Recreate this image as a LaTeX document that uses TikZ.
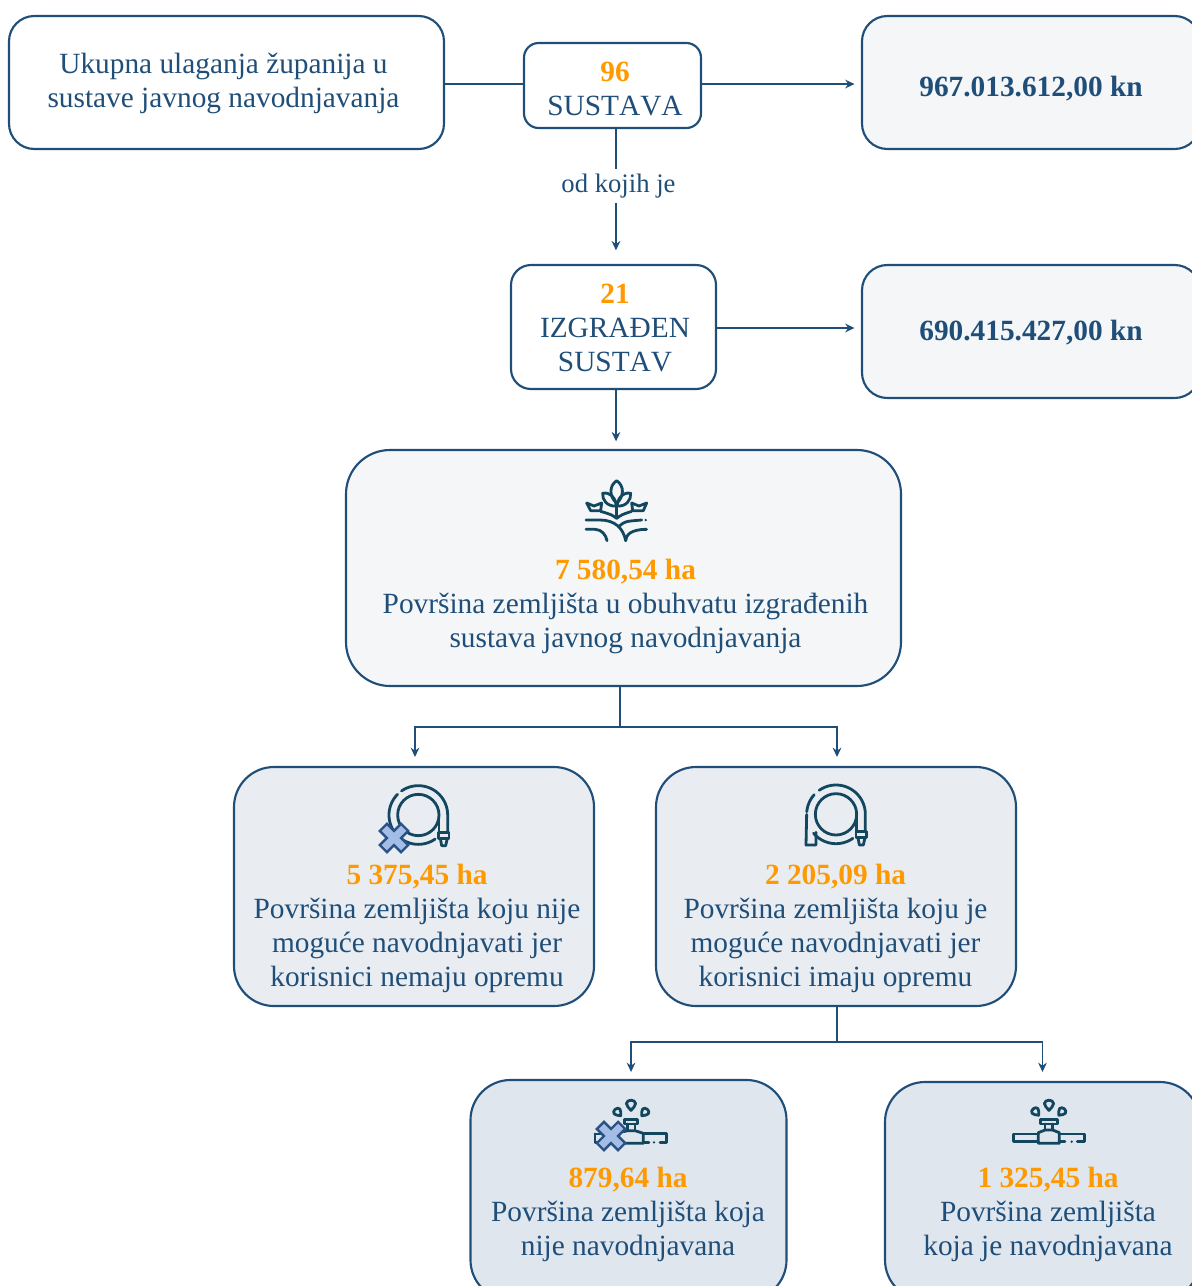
\documentclass[tikz,border=0pt]{standalone}
\usepackage{fontspec}
\setmainfont{Liberation Serif}
\usetikzlibrary{arrows.meta}
\definecolor{navy}{HTML}{1F4E79}
\definecolor{orng}{HTML}{FF9900}
\definecolor{iconc}{HTML}{12475F}
\definecolor{fillA}{HTML}{F4F6F8}
\definecolor{fillB}{HTML}{E9EDF2}
\definecolor{fillC}{HTML}{DFE6EE}
\definecolor{xfill}{HTML}{A4BDE6}
\definecolor{xline}{HTML}{2A5286}
\tikzset{
  box/.style={draw=navy,line width=1.6pt,inner sep=0,outer sep=0},
  txt/.style={font=\fontsize{22}{25.5}\selectfont,text=navy,align=center,inner sep=0,outer sep=0},
  big/.style={font=\fontsize{22}{25.5}\selectfont\bfseries,text=navy,inner sep=0},
  conn/.style={draw=navy,line width=1.1pt},
  arr/.style={conn,-{Stealth[length=7pt,width=6.5pt]}},
  icon/.style={draw=iconc,line width=2.1pt,line cap=round,line join=round},
}
\newcommand{\nm}[1]{{\bfseries\color{orng}#1}}
\newcommand{\nok}{\addfontfeature{RawFeature=-kern}}
\newcommand{\xmk}[2]{\begin{scope}[shift={(#1,#2)},x=0.75pt,y=0.75pt,rotate=45]
  \draw[draw=xline,fill=xfill,line width=1.8pt,line join=miter]
  (-5,-15)--(5,-15)--(5,-5)--(15,-5)--(15,5)--(5,5)--(5,15)--(-5,15)--(-5,5)--(-15,5)--(-15,-5)--(-5,-5)--cycle;
  \end{scope}}
\newcommand{\hosecommon}[2]{%
  \draw[icon] (#1,#2) circle[radius=62];
  \draw[icon] plot[domain=-125:0,samples=40] ({#1+88*cos(\x)},{#2+88*sin(\x)}) -- (#1+88,#2+52);
  \draw[icon] (#1+62,#2)--(#1+62,#2+52);
  \draw[icon] (#1+60,#2+52) rectangle (#1+92,#2+70);
  \draw[icon] (#1+66,#2+70)--(#1+70,#2+92)--(#1+82,#2+92)--(#1+87,#2+70);
  \fill[iconc] ({#1+88*cos(-143)},{#2+88*sin(-143)}) circle[radius=5];
}
\newcommand{\drop}[4]{% x y rotation size
  \begin{scope}[shift={(#1,#2)},rotate=#3,x=1pt,y=1pt]
   \draw[icon] (0,-#4*1.3) .. controls (-#4*0.5,-#4*0.65) and (-#4,-#4*0.35) .. (-#4,#4*0.2)
     .. controls (-#4,#4*1.2) and (#4,#4*1.2) .. (#4,#4*0.2)
     .. controls (#4,-#4*0.35) and (#4*0.5,-#4*0.65) .. (0,-#4*1.3) -- cycle;
  \end{scope}}
\begin{document}
\begin{tikzpicture}[x=0.75pt,y=-0.75pt]
\useasboundingbox (0,0) rectangle (1192,1286);
\clip (0,0) rectangle (1192,1286);
% boxes
\node[box,fill=white,rounded corners=19pt,minimum width=326.25pt,minimum height=99.75pt] (A) at (226.5,82.5) {};
\node[box,fill=white,rounded corners=11pt,minimum width=132.75pt,minimum height=63.75pt] (B) at (612.5,85.5) {};
\node[box,fill=fillA,rounded corners=19pt,minimum width=253.5pt,minimum height=99.75pt] (C) at (1031,82.5) {};
\node[box,fill=white,rounded corners=15pt,minimum width=153.75pt,minimum height=93pt] (D) at (613.5,327) {};
\node[box,fill=fillA,rounded corners=19pt,minimum width=253.5pt,minimum height=99.75pt] (E) at (1031,331.5) {};
\node[box,fill=fillA,rounded corners=33pt,minimum width=416.25pt,minimum height=177pt] (F) at (623.5,568) {};
\node[box,fill=fillB,rounded corners=30pt,minimum width=270pt,minimum height=179.25pt] (G) at (414,886.5) {};
\node[box,fill=fillB,rounded corners=30pt,minimum width=270pt,minimum height=179.25pt] (H) at (836,886.5) {};
\node[box,fill=fillC,rounded corners=30pt,minimum width=237pt,minimum height=165pt] (I) at (628.5,1190) {};
\node[box,fill=fillC,rounded corners=30pt,minimum width=236.25pt,minimum height=163.5pt] (J) at (1042.5,1191) {};
% connectors
\coordinate (j1) at (620,727);
\coordinate (j2) at (837,1042);
\draw[conn] ([yshift=-1.1pt]A.east) -- ([yshift=-1.1pt]A.east -| B.west);
\draw[arr,shorten >=5.6pt] ([yshift=1.1pt]B.east) -- ([yshift=1.1pt]B.east -| C.west);
\draw[arr,shorten >=11pt] ([xshift=2.6pt]B.south) -- ([xshift=2.6pt]B.south |- D.north);
\draw[arr,shorten >=5.6pt] ([yshift=-.75pt]D.east) -- ([yshift=-.75pt]D.east -| E.west);
\draw[arr,shorten >=6.5pt] ([xshift=1.9pt]D.south) -- ([xshift=1.9pt]D.south |- F.north);
\draw[conn] (F.south -| j1) -- (j1);
\draw[arr,shorten >=7.5pt] (j1) -| ([xshift=.75pt]G.north);
\draw[arr,shorten >=7.5pt] (j1) -| ([xshift=.75pt]H.north);
\draw[conn] (H.south -| j2) -- (j2);
\draw[arr,shorten >=6pt] (j2) -| ([xshift=1.9pt]I.north);
\draw[arr,shorten >=7.5pt] (j2) -| (J.north);
% texts
\node[txt] (tA) at (223.5,83) {Ukupna ulaganja županija u\\sustave javnog navodnjavanja};
\node[txt] (tB) at (615,89) {\nm{96}\\\nok SUSTAVA};
\node[big] (tC) at (1031,89) {967.013.612,00 kn};
\node[txt,fill=white,inner sep=3.5pt,font=\fontsize{20}{22}\selectfont] (tL) at (618.5,186) {od kojih je};
\node[txt] (tD) at (615,328) {\nm{21}\\\nok IZGRAĐEN\\\nok SUSTAV};
\node[big] (tE) at (1031,333) {690.415.427,00 kn};
\node[txt] (tF) at (625.5,606) {\nm{7 580,54 ha}\\Površina zemljišta u obuhvatu izgrađenih\\sustava javnog navodnjavanja};
\node[txt] (tG) at (417,928) {\nm{5 375,45 ha}\\Površina zemljišta koju nije\\moguće navodnjavati jer\\korisnici nemaju opremu};
\node[txt] (tH) at (835.5,928) {\nm{2 205,09 ha}\\Površina zemljišta koju je\\moguće navodnjavati jer\\korisnici imaju opremu};
\node[txt] (tI) at (628,1214) {\nm{879,64 ha}\\Površina zemljišta koja\\nije navodnjavana};
\node[txt] (tJ) at (1048,1214) {\nm{1 325,45 ha}\\Površina zemljišta\\koja je navodnjavana};
% plant icon
\begin{scope}[shift={(560,470)},x=0.25pt,y=-0.25pt]
 \draw[icon] (170,32) .. controls (146,48) and (148,80) .. (170,100) .. controls (192,80) and (194,48) .. (170,32) -- cycle;
 \draw[icon] (128,70) .. controls (150,64) and (170,88) .. (168,108) .. controls (142,110) and (126,90) .. (128,70) -- cycle;
 \draw[icon] (212,70) .. controls (190,64) and (170,88) .. (172,108) .. controls (198,110) and (214,90) .. (212,70) -- cycle;
 \draw[icon] (170,108) -- (170,142);
 \draw[icon] (80,99) -- (102,108) -- (125,99) -- (122,122) -- (92,122) -- cycle;
 \draw[icon] (215,99) -- (237,108) -- (260,99) -- (250,122) -- (218,122) -- cycle;
 \draw[icon] (170,145) .. controls (155,134) .. (122,124);
 \draw[icon] (170,145) .. controls (185,134) .. (215,124);
 \draw[icon] (78,150) -- (120,150) .. controls (165,150) and (190,175) .. (197,212);
 \draw[icon] (78,178) -- (105,178) .. controls (125,178) and (138,195) .. (141,212);
 \draw[icon] (178,168) .. controls (195,154) .. (245,150);
 \fill[iconc] (257,150) circle[radius=4];
 \draw[icon] (197,212) .. controls (198,195) and (212,178) .. (260,178);
\end{scope}
% hose with X
\begin{scope}[shift={(370,775)},x=0.25pt,y=-0.25pt]
 \hosecommon{145}{120}
 \draw[icon] plot[domain=55:90,samples=10] ({145+88*cos(\x)},{120+88*sin(\x)});
 \draw[icon] plot[domain=90:225,samples=40] ({145+88*cos(\x)},{120+88*sin(\x)});
\end{scope}
\xmk{394}{838}
% hose
\begin{scope}[shift={(790,775)},x=0.25pt,y=-0.25pt]
 \hosecommon{138}{118}
 \draw[icon] plot[domain=55:140,samples=30] ({138+88*cos(\x)},{118+88*sin(\x)});
 \draw[icon] plot[domain=185:222,samples=20] ({138+88*cos(\x)},{118+88*sin(\x)});
 \draw[icon] (50,118) -- (48,210) -- (78,210) -- (78,172);
\end{scope}
% sprinkler with X
\begin{scope}[shift={(585,1090)},x=0.25pt,y=-0.25pt]
 \draw[icon] (118,88)--(158,88)--(158,102)--(118,102)--cycle;
 \draw[icon] (128,102)--(128,122); \draw[icon] (150,102)--(150,122);
 \draw[icon] (115,125)--(128,122)--(150,122)--(175,130)--(175,160)--(115,160);
 \draw[icon] (30,132)--(60,132); \draw[icon] (30,132)--(30,157)--(60,157);
 \draw[icon] (175,130)--(245,130)--(245,157)--(225,157);
 \fill[iconc] (207,157) circle[radius=4];
 \draw[icon] (175,157)--(192,157);
\end{scope}
\drop{631}{1104.5}{0}{3.4}
\drop{617.5}{1112}{40}{2.8}
\drop{645}{1112}{-40}{2.8}
\xmk{611}{1136}
% sprinkler
\begin{scope}[shift={(1000,1090)},x=0.25pt,y=-0.25pt]
 \draw[icon] (122,88)--(172,88)--(172,102)--(122,102)--cycle;
 \draw[icon] (135,102)--(135,120); \draw[icon] (158,102)--(158,120);
 \draw[icon] (115,128)--(135,120)--(158,120)--(178,128)--(178,160)--(115,160)--cycle;
 \draw[icon] (115,132)--(40,132)--(40,155)--(115,155);
 \draw[icon] (178,132)--(253,132)--(253,155)--(232,155);
 \fill[iconc] (215,155) circle[radius=4];
 \draw[icon] (178,155)--(195,155);
\end{scope}
\drop{1049}{1104.5}{0}{3.4}
\drop{1035.5}{1111.5}{40}{2.8}
\drop{1062}{1111.5}{-40}{2.8}
\end{tikzpicture}
\end{document}
